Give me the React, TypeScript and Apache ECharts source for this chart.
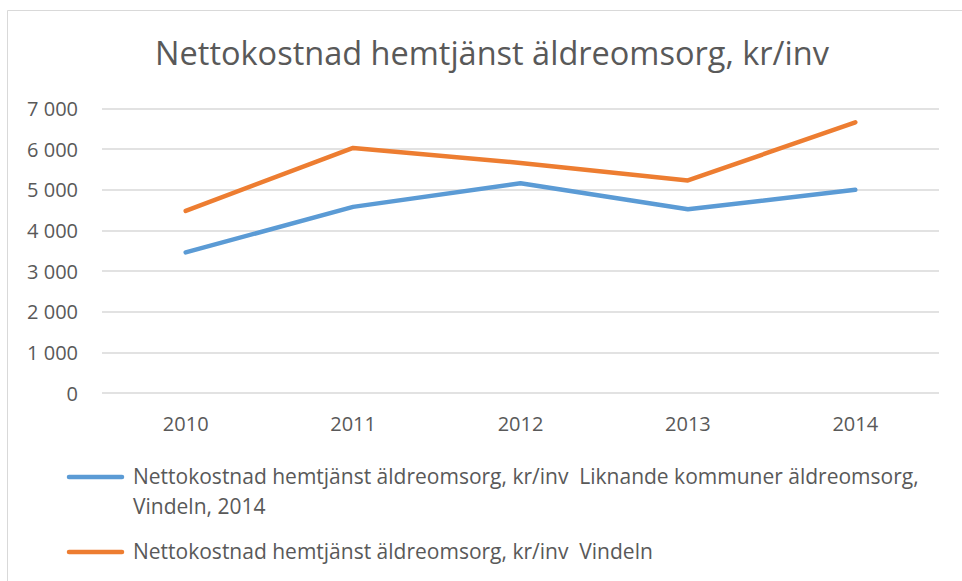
import React, { useEffect, useRef } from "react";
import * as echarts from "echarts";

const titleText = "Nettokostnad hemtjänst äldreomsorg, kr/inv";
const categories = ["2010", "2011", "2012", "2013", "2014"];
const seriesNames = [
  "Nettokostnad hemtjänst äldreomsorg, kr/inv  Liknande kommuner äldreomsorg,\nVindeln, 2014",
  "Nettokostnad hemtjänst äldreomsorg, kr/inv  Vindeln",
];
const liknandeValues = [3460, 4580, 5160, 4520, 5000];
const vindelnValues = [4480, 6030, 5660, 5230, 6660];
const seriesColors = ["#5B9BD5", "#ED7D31"];

const FONT = "'Open Sans', sans-serif";
const TEXT = "#595959";

export default function App() {
  const ref = useRef<HTMLDivElement>(null);
  useEffect(() => {
    if (!ref.current) return;
    const chart = echarts.init(ref.current, null, { renderer: "svg" });
    const values = [liknandeValues, vindelnValues];
    const legendTops = [461, 536];
    chart.setOption({
      animation: false,
      backgroundColor: "#ffffff",
      textStyle: { fontFamily: FONT },
      title: {
        text: titleText,
        left: 487,
        textAlign: "center",
        top: 31,
        textStyle: { fontFamily: FONT, fontSize: 32.5, fontWeight: 400, color: TEXT },
      },
      grid: { left: 102, right: 23, top: 108.5, bottom: 188, containLabel: false },
      xAxis: {
        type: "category",
        data: categories,
        boundaryGap: true,
        axisLine: { show: false },
        axisTick: { show: false },
        axisLabel: { color: TEXT, fontSize: 20, margin: 20, fontFamily: FONT },
      },
      yAxis: {
        type: "value",
        min: 0,
        max: 7000,
        interval: 1000,
        axisLine: { show: false },
        axisTick: { show: false },
        splitLine: { lineStyle: { color: "#D9D9D9", width: 1.5 } },
        axisLabel: {
          color: TEXT,
          fontSize: 20,
          margin: 24,
          fontFamily: FONT,
          formatter: (v: number) => String(v).replace(/\B(?=(\d{3})+(?!\d))/g, " "),
        },
      },
      series: values.map((d, i) => ({
        name: seriesNames[i],
        type: "line",
        data: d,
        symbol: "none",
        lineStyle: { color: seriesColors[i], width: 4.5, cap: "round", join: "round" },
        itemStyle: { color: seriesColors[i] },
      })),
      graphic: [
        {
          type: "rect",
          shape: { x: 7.5, y: 10.5, width: 1000, height: 1000 },
          style: { fill: "none", stroke: "#D9D9D9", lineWidth: 1 },
          silent: true,
        },
        ...seriesNames.flatMap((name, i) => [
          {
            type: "line",
            shape: { x1: 69, y1: legendTops[i] + 16, x2: 122, y2: legendTops[i] + 16 },
            style: { stroke: seriesColors[i], lineWidth: 4.5, lineCap: "round" },
          },
          {
            type: "text",
            x: 133,
            y: legendTops[i],
            style: {
              text: name,
              fill: TEXT,
              fontSize: 21,
              fontFamily: FONT,
              lineHeight: 30,
              textVerticalAlign: "top",
            },
          },
        ]),
      ],
    });
    return () => chart.dispose();
  }, []);
  return (
    <div
      ref={ref}
      style={{ position: "fixed", left: 0, top: 0, width: 962, height: 581 }}
    />
  );
}
